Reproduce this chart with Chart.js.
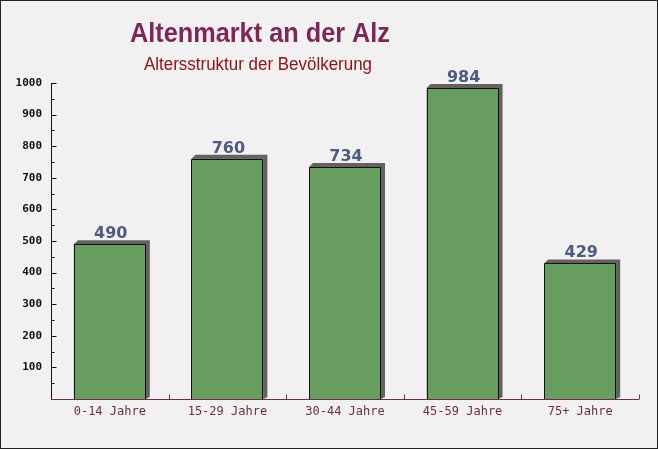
<!DOCTYPE html>
<html><head><meta charset="utf-8">
<script src="https://cdn.jsdelivr.net/npm/chart.js@4.4.1/dist/chart.umd.min.js"></script>
<style>html,body{margin:0;padding:0;background:#f3f0f1;}#wrap{width:658px;height:449px;position:relative;}</style>
</head><body><div id="wrap"><canvas id="c" width="658" height="449"></canvas></div>
<script>
const titleText = "Altenmarkt an der Alz";
const subtitleText = "Altersstruktur der Bevölkerung";
const categories = ["0-14 Jahre","15-29 Jahre","30-44 Jahre","45-59 Jahre","75+ Jahre"];
const values = [490, 760, 734, 984, 429];
const yMin = 0, yMax = 1000, yStep = 100;

const deco = {
  id: 'deco',
  beforeDraw(chart) {
    const ctx = chart.ctx;
    ctx.save();
    ctx.fillStyle = '#f3f0f1';
    ctx.fillRect(0, 0, chart.width, chart.height);
    ctx.restore();
  },
  beforeDatasetsDraw(chart) {
    const ctx = chart.ctx;
    const meta = chart.getDatasetMeta(0);
    ctx.save();
    ctx.fillStyle = '#656163';
    meta.data.forEach(b => {
      const l = b.x - b.width/2, r = b.x + b.width/2, t = b.y, base = b.base;
      const d = 4;
      ctx.beginPath();
      ctx.moveTo(l, t);
      ctx.lineTo(l + d, t - d);
      ctx.lineTo(r + d, t - d);
      ctx.lineTo(r + d, base - 2);
      ctx.lineTo(r, base);
      ctx.closePath();
      ctx.fill();
    });
    ctx.restore();
  },
  afterDatasetsDraw(chart) {
    const ctx = chart.ctx;
    const meta = chart.getDatasetMeta(0);
    const ca = chart.chartArea;
    const ys = chart.scales.y;
    ctx.save();
    ctx.strokeStyle = '#111';
    ctx.lineWidth = 1;
    meta.data.forEach(b => {
      const l = Math.round(b.x - b.width/2) + 0.5, r = Math.round(b.x + b.width/2) - 0.5, t = Math.round(b.y) + 0.5, base = b.base;
      ctx.beginPath();
      ctx.moveTo(l, base); ctx.lineTo(l, t); ctx.lineTo(r, t); ctx.lineTo(r, base);
      ctx.stroke();
    });
    ctx.fillStyle = '#4e5a80';
    ctx.font = 'bold 16px "DejaVu Sans"';
    ctx.textAlign = 'center';
    ctx.textBaseline = 'alphabetic';
    meta.data.forEach((b, i) => {
      ctx.fillText(String(values[i]), b.x + 1, b.y - 6);
    });
    const ax = Math.round(ca.left) + 0.5;
    ctx.strokeStyle = '#111';
    ctx.beginPath(); ctx.moveTo(ax, ca.top); ctx.lineTo(ax, ca.bottom); ctx.stroke();
    for (let v = yMin; v <= yMax; v += yStep/2) {
      const y = Math.round(ys.getPixelForValue(v)) + 0.5;
      const major = (v % yStep) === 0;
      ctx.beginPath(); ctx.moveTo(ax, y); ctx.lineTo(ax + (major ? 5 : 3), y); ctx.stroke();
    }
    const by = Math.round(ca.bottom) + 0.5;
    ctx.strokeStyle = '#6b2d4f';
    ctx.beginPath(); ctx.moveTo(ca.left, by); ctx.lineTo(ca.right, by); ctx.stroke();
    const n = categories.length;
    for (let i = 1; i <= n; i++) {
      const x = Math.round(ca.left + (ca.right - ca.left) * i / n) + 0.5;
      ctx.beginPath(); ctx.moveTo(x, by); ctx.lineTo(x, by - 5); ctx.stroke();
    }
    ctx.textAlign = 'center';
    ctx.textBaseline = 'alphabetic';
    ctx.fillStyle = '#7b2857';
    ctx.font = 'bold 27px "Liberation Sans"';
    ctx.fillText(titleText, 260, 42, 260);
    ctx.fillStyle = '#8b1520';
    ctx.font = '18px "Liberation Sans"';
    ctx.fillText(subtitleText, 258, 70, 228);
    ctx.strokeStyle = '#222';
    ctx.strokeRect(0.5, 0.5, chart.width - 1, chart.height - 1);
    ctx.restore();
  }
};

new Chart(document.getElementById('c'), {
  type: 'bar',
  data: {
    labels: categories,
    datasets: [{
      data: values,
      backgroundColor: '#679e60',
      borderWidth: 0,
      categoryPercentage: 0.612,
      barPercentage: 1.0
    }]
  },
  options: {
    responsive: false,
    animation: false,
    layout: { padding: { top: 83, right: 19, left: 0, bottom: 0 } },
    plugins: { legend: { display: false }, tooltip: { enabled: false }, title: { display: false } },
    scales: {
      x: {
        grid: { display: false, drawTicks: false },
        border: { display: false },
        ticks: { color: '#6b2d4f', font: { family: '"DejaVu Sans Mono"', size: 12 }, padding: 6, maxRotation: 0 },
        afterFit(s) { s.height = 50; }
      },
      y: {
        min: yMin, max: yMax,
        grid: { display: false, drawTicks: false },
        border: { display: false },
        ticks: { stepSize: yStep, color: '#111', font: { family: '"DejaVu Sans Mono"', size: 11, weight: 'bold' }, padding: 9,
          callback: v => v === 0 ? '' : String(v) },
        afterFit(s) { s.width = 51; }
      }
    }
  },
  plugins: [deco]
});
</script></body></html>
